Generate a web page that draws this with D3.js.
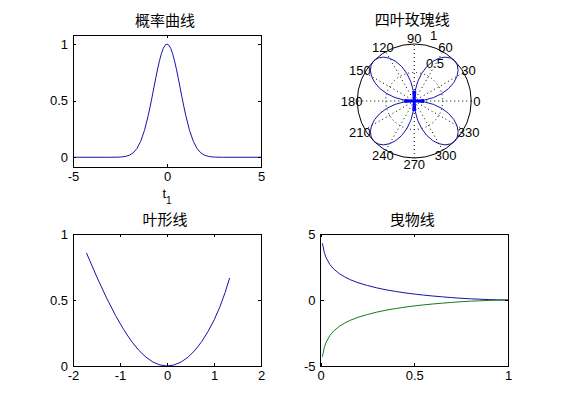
<!DOCTYPE html>
<html><head><meta charset="utf-8">
<script src="https://cdn.jsdelivr.net/npm/d3@7"></script>
<style>
html,body{margin:0;padding:0;background:#fff;}
svg{display:block;}
text{font-family:"Liberation Sans",Arial,sans-serif;font-size:13px;fill:#000;}
.ttl{font-family:"Liberation Sans","Noto Sans CJK SC",sans-serif;font-size:15px;}
</style>
</head><body>
<script>
// ---------- data ----------
const titles = ["概率曲线", "四叶玫瑰线", "叶形线", "曳物线"];

// 概率曲线
const gaussT = [-5, -3, -2.6, -2.4, -2.2, -2.0, -1.8, -1.6, -1.4, -1.2, -1.0, -0.9, -0.8, -0.7, -0.6, -0.5, -0.4, -0.3, -0.2, -0.1, 0,
                0.1, 0.2, 0.3, 0.4, 0.5, 0.6, 0.7, 0.8, 0.9, 1.0, 1.2, 1.4, 1.6, 1.8, 2.0, 2.2, 2.4, 2.6, 3, 5];
const gaussY = [0, 0.000, 0.001, 0.003, 0.008, 0.018, 0.039, 0.077, 0.141, 0.237, 0.368, 0.445, 0.527, 0.613, 0.698, 0.779, 0.852, 0.914, 0.961, 0.990, 1,
                0.990, 0.961, 0.914, 0.852, 0.779, 0.698, 0.613, 0.527, 0.445, 0.368, 0.237, 0.141, 0.077, 0.039, 0.018, 0.008, 0.003, 0.001, 0.000, 0];
const gaussXTicks = [-5, 0, 5];
const gaussYTicks = [0, 0.5, 1];

// 四叶玫瑰线 (theta in degrees, rho)
const roseTheta = [0,5,10,15,20,25,30,35,40,45,50,55,60,65,70,75,80,85,90,
                   95,100,105,110,115,120,125,130,135,140,145,150,155,160,165,170,175,180,
                   185,190,195,200,205,210,215,220,225,230,235,240,245,250,255,260,265,270,
                   275,280,285,290,295,300,305,310,315,320,325,330,335,340,345,350,355,360];
const roseRho = [0,0.174,0.342,0.5,0.643,0.766,0.866,0.940,0.985,1,0.985,0.940,0.866,0.766,0.643,0.5,0.342,0.174,0,
                 -0.174,-0.342,-0.5,-0.643,-0.766,-0.866,-0.940,-0.985,-1,-0.985,-0.940,-0.866,-0.766,-0.643,-0.5,-0.342,-0.174,0,
                 0.174,0.342,0.5,0.643,0.766,0.866,0.940,0.985,1,0.985,0.940,0.866,0.766,0.643,0.5,0.342,0.174,0,
                 -0.174,-0.342,-0.5,-0.643,-0.766,-0.866,-0.940,-0.985,-1,-0.985,-0.940,-0.866,-0.766,-0.643,-0.5,-0.342,-0.174,0];
const polarRings = [0.5, 1];
const polarSpokes = [30, 60, 90, 120, 150, 180];
const polarAngleLabels = [0, 30, 60, 90, 120, 150, 180, 210, 240, 270, 300, 330];

// 叶形线
const foliumX = [-1.714,-1.485,-1.282,-1.097,-0.925,-0.762,-0.605,-0.452,-0.300,-0.150,0,
                 0.150,0.300,0.449,0.595,0.739,0.876,1.007,1.128,1.237,1.333];
const foliumY = [0.857,0.668,0.513,0.384,0.278,0.190,0.121,0.068,0.030,0.008,0,
                 0.008,0.030,0.067,0.119,0.185,0.263,0.352,0.451,0.557,0.667];
const foliumXTicks = [-2, -1, 0, 1, 2];
const foliumYTicks = [0, 0.5, 1];

// 曳物线
const tractX = [0.01,0.02,0.03,0.05,0.07,0.1,0.13,0.16,0.2,0.25,0.3,0.35,0.4,0.45,0.5,0.55,0.6,0.65,0.7,0.75,0.8,0.85,0.9,0.95,1];
const tractUpper = [4.30,3.61,3.20,2.69,2.35,2.00,1.74,1.53,1.31,1.10,0.92,0.77,0.65,0.54,0.45,0.37,0.30,0.24,0.18,0.13,0.09,0.06,0.03,0.01,0];
const tractLower = [-4.30,-3.61,-3.20,-2.69,-2.35,-2.00,-1.74,-1.53,-1.31,-1.10,-0.92,-0.77,-0.65,-0.54,-0.45,-0.37,-0.30,-0.24,-0.18,-0.13,-0.09,-0.06,-0.03,-0.01,0];
const tractXTicks = [0, 0.5, 1];
const tractYTicks = [-5, 0, 5];

const BLUE = "#1414a8", GREEN = "#1a7a1a";

// ---------- layout ----------
const W = 561, H = 420;
const svg = d3.select("body").append("svg").attr("width", W).attr("height", H);

const colL = [73, 261], colR = [320.5, 508];
const rowT = [35, 167], rowB = [234, 366];

function cartesian(xr, yr, xdom, ydom, xticks, yticks, series, title) {
  const x = d3.scaleLinear().domain(xdom).range(xr);
  const y = d3.scaleLinear().domain(ydom).range([yr[1], yr[0]]);
  const g = svg.append("g");
  series.forEach(s => {
    const pts = s.xs.map((v, i) => [v, s.ys[i]]);
    g.append("path").datum(pts)
      .attr("fill", "none").attr("stroke", s.color).attr("stroke-width", 1)
      .attr("d", d3.line().x(d => x(d[0])).y(d => y(d[1])));
  });
  g.append("rect").attr("x", xr[0]).attr("y", yr[0])
    .attr("width", xr[1] - xr[0]).attr("height", yr[1] - yr[0])
    .attr("fill", "none").attr("stroke", "#000").attr("stroke-width", 1)
    .attr("shape-rendering", "crispEdges");
  const tl = 3;
  const fmt = v => String(v);
  const bottom = d3.axisBottom(x).tickValues(xticks).tickSize(-tl).tickSizeOuter(0).tickPadding(5).tickFormat(fmt);
  const top = d3.axisTop(x).tickValues(xticks).tickSize(-tl).tickSizeOuter(0).tickFormat("");
  const left = d3.axisLeft(y).tickValues(yticks).tickSize(-tl).tickSizeOuter(0).tickPadding(5).tickFormat(fmt);
  const right = d3.axisRight(y).tickValues(yticks).tickSize(-tl).tickSizeOuter(0).tickFormat("");
  [[bottom, `translate(0,${yr[1]})`], [top, `translate(0,${yr[0]})`], [left, `translate(${xr[0]},0)`], [right, `translate(${xr[1]},0)`]]
    .forEach(([ax, tr]) => {
      const a = g.append("g").attr("transform", tr).call(ax);
      a.select(".domain").remove();
      a.selectAll("line").attr("stroke", "#000").attr("shape-rendering", "crispEdges");
      a.selectAll("text").attr("font-family", null).attr("font-size", null).attr("fill", "#000");
    });
  g.append("text").attr("class", "ttl")
    .attr("x", (xr[0] + xr[1]) / 2 - 2).attr("y", yr[0] - 14.5)
    .attr("text-anchor", "middle").attr("dominant-baseline", "central").text(title);
  return {x, y, g};
}

// 1. 概率曲线
cartesian(colL, rowT, [-5, 5], [-0.086, 1.08], gaussXTicks, gaussYTicks,
  [{xs: gaussT, ys: gaussY, color: BLUE}], titles[0]);
const xl = svg.append("text").attr("x", (colL[0] + colL[1]) / 2).attr("y", 198).attr("text-anchor", "middle");
xl.append("tspan").text("t");
xl.append("tspan").attr("dy", 6).attr("font-size", "10px").text("1");

// 3. 叶形线
cartesian(colL, rowB, [-2, 2], [0, 1], foliumXTicks, foliumYTicks,
  [{xs: foliumX, ys: foliumY, color: BLUE}], titles[2]);

// 4. 曳物线
cartesian(colR, rowB, [0, 1], [-5, 5], tractXTicks, tractYTicks,
  [{xs: tractX, ys: tractUpper, color: BLUE}, {xs: tractX, ys: tractLower, color: GREEN}], titles[3]);

// 2. 四叶玫瑰线 (polar)
(function () {
  const cx = (colR[0] + colR[1]) / 2, cy = (rowT[0] + rowT[1]) / 2;
  const R = 57;
  const r = d3.scaleLinear().domain([0, 1]).range([0, R]);
  const g = svg.append("g").attr("transform", `translate(${cx},${cy})`);
  const rad = d => d * Math.PI / 180;
  g.selectAll("line.spoke").data(polarSpokes).enter().append("line")
    .attr("x1", d => -r(1) * Math.cos(rad(d))).attr("y1", d => r(1) * Math.sin(rad(d)))
    .attr("x2", d => r(1) * Math.cos(rad(d))).attr("y2", d => -r(1) * Math.sin(rad(d)))
    .attr("stroke", "#000").attr("stroke-width", 1).attr("stroke-dasharray", "1,3");
  g.selectAll("circle.ring").data(polarRings).enter().append("circle")
    .attr("r", d => r(d)).attr("fill", "none").attr("stroke", "#000").attr("stroke-width", 1)
    .attr("stroke-dasharray", d => d < 1 ? "1,3" : null);
  g.selectAll("text.rl").data(polarRings).enter().append("text")
    .attr("x", d => r(d + 0.025) * Math.cos(rad(82)) + 7.5)
    .attr("y", d => -r(d + 0.025) * Math.sin(rad(82)) - 3)
    .text(d => String(d));
  g.selectAll("text.al").data(polarAngleLabels).enter().append("text")
    .attr("x", d => r(1.1) * Math.cos(rad(d)))
    .attr("y", d => -r(1.1) * Math.sin(rad(d)) + 5)
    .attr("text-anchor", "middle").text(d => String(d));
  const pts = roseTheta.map((t, i) => [r(roseRho[i]) * Math.cos(rad(t)), -r(roseRho[i]) * Math.sin(rad(t))]);
  g.append("path").datum(pts).attr("fill", "none").attr("stroke", BLUE).attr("stroke-width", 1)
    .attr("d", d3.line());
  const segs = [];
  for (let i = 0; i < pts.length - 1; i++) {
    if (roseRho[i] === 0 || roseRho[i + 1] === 0) segs.push([pts[i], pts[i + 1]]);
  }
  g.selectAll("line.c").data(segs).enter().append("line")
    .attr("x1", d => d[0][0]).attr("y1", d => d[0][1]).attr("x2", d => d[1][0]).attr("y2", d => d[1][1])
    .attr("stroke", "#0000ff").attr("stroke-width", 2.5);
  svg.append("text").attr("class", "ttl").attr("x", cx - 2).attr("y", 19.5)
    .attr("text-anchor", "middle").attr("dominant-baseline", "central").text(titles[1]);
})();
</script>
</body></html>
